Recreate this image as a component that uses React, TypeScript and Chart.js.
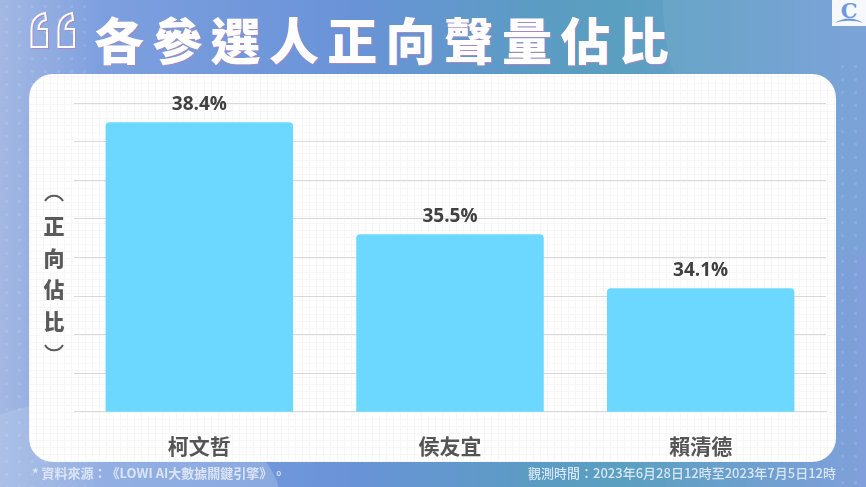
import { useEffect, useRef } from 'react';
import { Chart, registerables } from 'chart.js';

Chart.register(...registerables);

const candidates = ['柯文哲', '侯友宜', '賴清德'];
const positiveShare = [38.4, 35.5, 34.1];
const titleText = '各參選人正向聲量佔比';
const yAxisChars = ['正', '向', '佔', '比'];
const sourceText = '* 資料來源：《LOWI AI大數據關鍵引擎》。';
const periodText = '觀測時間：2023年6月28日12時至2023年7月5日12時';

const CJK = '"Noto Sans CJK TC", "Noto Sans", sans-serif';

// draws the percentage over each bar
const valueLabels = {
  id: 'valueLabels',
  afterDatasetsDraw(chart: any) {
    const { ctx } = chart;
    const bars = chart.getDatasetMeta(0).data;
    ctx.save();
    ctx.font = '700 19px "Open Sans", "Noto Sans", sans-serif';
    ctx.fillStyle = '#404040';
    ctx.textAlign = 'center';
    ctx.textBaseline = 'middle';
    bars.forEach((bar: any, i: number) => {
      ctx.fillText(positiveShare[i].toFixed(1) + '%', bar.x, bar.y - 18);
    });
    ctx.restore();
  },
};

const App = () => {
  const canvasRef = useRef<HTMLCanvasElement | null>(null);

  useEffect(() => {
    if (!canvasRef.current) return;
    const chart = new Chart(canvasRef.current, {
      type: 'bar',
      data: {
        labels: candidates,
        datasets: [
          {
            data: positiveShare,
            backgroundColor: '#6dd8ff',
            borderRadius: { topLeft: 4, topRight: 4, bottomLeft: 0, bottomRight: 0 },
            borderSkipped: false,
            categoryPercentage: 0.748,
            barPercentage: 1,
          },
        ],
      },
      options: {
        responsive: false,
        animation: false,
        layout: { padding: { left: 74, right: 40, top: 103, bottom: 6 } },
        plugins: { legend: { display: false }, tooltip: { enabled: false } },
        scales: {
          x: {
            grid: { display: false, drawTicks: false },
            border: { color: '#d9d9d9', width: 1 },
            ticks: {
              color: '#555555',
              padding: 22,
              font: { family: CJK, size: 21, weight: 'bold' },
            },
          },
          y: {
            min: 30.9,
            max: 38.9,
            ticks: { display: false, stepSize: 1 },
            border: { display: false },
            grid: { color: '#d9d9d9', drawTicks: false },
          },
        },
      },
      plugins: [valueLabels],
    } as any);
    return () => chart.destroy();
  }, []);

  return (
    <div
      style={{
        position: 'fixed',
        left: 0,
        top: 0,
        width: 866,
        height: 487,
        overflow: 'hidden',
        fontFamily: CJK,
        background:
          'linear-gradient(90deg, #a3b8e3 0%, #7d9fdf 12%, #6a93d8 40%, #5b9cc3 62%, #5a9fc0 72%, #80a0db 100%)',
      }}
    >
      {/* dotted texture and the lighter shapes behind the title */}
      <div
        style={{
          position: 'absolute',
          left: 663,
          top: -260,
          width: 520,
          height: 520,
          borderRadius: '50%',
          background: 'linear-gradient(90deg, #68a5c6 0%, #7aa3d8 35%, #7fa1dc 100%)',
        }}
      />
      <div
        style={{
          position: 'absolute',
          left: -90,
          top: 400,
          width: 370,
          height: 200,
          borderRadius: '50%',
          background: 'rgba(190, 205, 235, 0.35)',
        }}
      />
      <div
        style={{
          position: 'absolute',
          left: 0,
          top: 0,
          width: 90,
          height: 487,
          backgroundImage: 'radial-gradient(rgba(255,255,255,0.1) 1.5px, transparent 2px)',
          backgroundSize: '13px 13px',
        }}
      />
      <div
        style={{
          position: 'absolute',
          left: 836,
          top: 60,
          width: 30,
          height: 427,
          backgroundImage: 'radial-gradient(rgba(255,255,255,0.1) 1.5px, transparent 2px)',
          backgroundSize: '13px 13px',
        }}
      />

      {/* opening quote mark */}
      <svg style={{ position: 'absolute', left: 28, top: 10 }} width="52" height="42" viewBox="0 0 52 42">
        {[2, 29].map((x) => (
          <path
            key={x}
            transform={`translate(${x} 2)`}
            d="M15 1 C6 3 1.5 9 1.5 18 L1.5 35 L17 35 L17 17 L8.5 17 C8.5 12 11 9 16 8 Z"
            fill="none"
            stroke="#ffffff"
            strokeWidth="2"
            style={{ filter: 'drop-shadow(1px 1px 0 #a58bc0)' }}
          />
        ))}
      </svg>

      <div
        style={{
          position: 'absolute',
          left: 94,
          top: 6,
          fontSize: 50,
          lineHeight: '64px',
          fontWeight: 900,
          letterSpacing: 8.3,
          color: '#ffffff',
          whiteSpace: 'nowrap',
          textShadow: '1px 1px 0 #a58bc0',
        }}
      >
        {titleText}
      </div>

      {/* logo tile */}
      <div
        style={{
          position: 'absolute',
          left: 832,
          top: 0,
          width: 34,
          height: 26,
          background: '#f6f8fd',
          color: '#6f9bdc',
          fontSize: 21,
          fontWeight: 700,
          lineHeight: '21px',
          textAlign: 'center',
          fontFamily: '"DejaVu Serif", serif',
        }}
      >
        C
        <svg style={{ position: 'absolute', left: 2, top: 18 }} width="30" height="6" viewBox="0 0 30 6">
          <path d="M1 5 C9 -1 21 -1 29 5 C21 2 9 2 1 5 Z" fill="#6f9bdc" />
        </svg>
      </div>

      {/* white card with faint grid paper */}
      <div
        style={{
          position: 'absolute',
          left: 29,
          top: 74,
          width: 807,
          height: 388,
          borderRadius: 24,
          backgroundColor: '#ffffff',
          backgroundImage:
            'repeating-linear-gradient(0deg, #f7f7f7 0 1px, transparent 1px 7px), repeating-linear-gradient(90deg, #f7f7f7 0 1px, transparent 1px 7px)',
        }}
      />

      <canvas
        ref={canvasRef}
        width={866}
        height={487}
        style={{ position: 'absolute', left: 0, top: 0, display: 'block' }}
      />

      {/* axis name, stacked by hand because it runs vertically */}
      <svg style={{ position: 'absolute', left: 44, top: 192 }} width="22" height="12" viewBox="0 0 22 12">
        <path d="M1 9 C5 2 15 2 19 9" fill="none" stroke="#5a5a5a" strokeWidth="2" />
      </svg>
      <div
        style={{
          position: 'absolute',
          left: 39,
          top: 210,
          width: 30,
          textAlign: 'center',
          color: '#5a5a5a',
          fontSize: 21,
          fontWeight: 900,
          lineHeight: '31.5px',
        }}
      >
        {yAxisChars.map((c) => (
          <div key={c}>{c}</div>
        ))}
      </div>
      <svg style={{ position: 'absolute', left: 44, top: 342 }} width="22" height="12" viewBox="0 0 22 12">
        <path d="M1 3 C5 10 15 10 19 3" fill="none" stroke="#5a5a5a" strokeWidth="2" />
      </svg>

      <div
        style={{
          position: 'absolute',
          left: 32,
          top: 464,
          fontSize: 13,
          lineHeight: '18px',
          fontWeight: 700,
          textSpacingTrim: 'space-all',
          color: '#dbe4f5',
          whiteSpace: 'nowrap',
        } as any}
      >
        {sourceText}
      </div>
      <div
        style={{
          position: 'absolute',
          right: 30,
          top: 464,
          fontSize: 13,
          lineHeight: '18px',
          fontWeight: 500,
          color: '#d6e6f5',
          whiteSpace: 'nowrap',
        }}
      >
        {periodText}
      </div>
    </div>
  );
};

export default App;
